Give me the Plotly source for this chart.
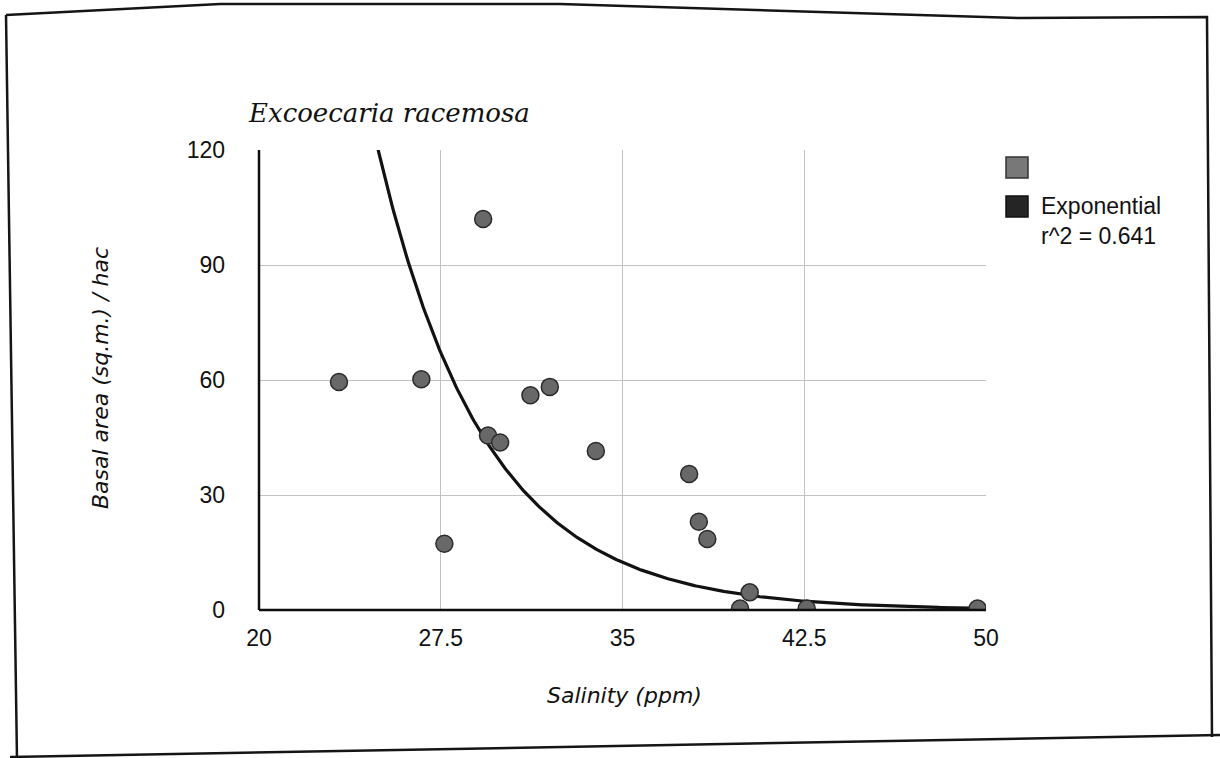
import numpy as np
import plotly.graph_objects as go

# Salinity (ppm) vs basal area per hectare for Excoecaria racemosa
salinity = [23.3, 26.7, 27.65, 29.25, 29.45, 29.95, 31.2, 32.0, 33.9,
            37.75, 38.15, 38.5, 40.25, 39.85, 42.6, 49.65]
basal_area = [59.5, 60.2, 17.3, 102.0, 45.5, 43.7, 56.0, 58.2, 41.5,
              35.5, 23.0, 18.5, 4.6, 0.4, 0.4, 0.4]

# Exponential trendline y = A * exp(B * x), r^2 = 0.641
TREND_A = 32675.0
TREND_B = -0.225
R_SQUARED = 0.641

x_ticks = [20, 27.5, 35, 42.5, 50]
x_tick_text = ["20", "27.5", "35", "42.5", "50"]
y_ticks = [0, 30, 60, 90, 120]

W, H = 1220, 758
ML, MR, MT, MB = 259, 234, 150, 148
PW, PH = W - ML - MR, H - MT - MB


def px(p):
    return (p - ML) / PW


def py(q):
    return (H - MB - q) / PH


trend_x = np.linspace(20, 50, 400)
trend_y = TREND_A * np.exp(TREND_B * trend_x)

fig = go.Figure()
fig.add_trace(go.Scatter(
    x=trend_x, y=trend_y, mode="lines",
    line=dict(color="#121212", width=3.2),
    hoverinfo="skip", showlegend=False,
))
fig.add_trace(go.Scatter(
    x=salinity, y=basal_area, mode="markers",
    marker=dict(size=17, color="#686868", line=dict(color="#2a2a2a", width=1.5)),
    showlegend=False,
))

sans = "Liberation Sans"
tick_font = dict(family=sans, size=23, color="#111111")

fig.update_xaxes(
    range=[20, 50], tickvals=x_ticks, ticktext=x_tick_text,
    showgrid=True, gridcolor="#c2c2c2", gridwidth=1,
    zeroline=False, showline=False, ticks="",
    tickfont=tick_font, ticklabelstandoff=12,
)
fig.update_yaxes(
    range=[0, 120], tickvals=y_ticks,
    showgrid=True, gridcolor="#c2c2c2", gridwidth=1,
    zeroline=False, showline=False, ticks="",
    tickfont=tick_font, ticklabelstandoff=33,
)

shapes = [
    # axis lines
    dict(type="line", xref="paper", yref="paper", x0=0, x1=0, y0=0, y1=1,
         line=dict(color="#0e0e0e", width=2.5)),
    dict(type="line", xref="paper", yref="paper", x0=0, x1=1, y0=0, y1=0,
         line=dict(color="#0e0e0e", width=2.5)),
    # legend swatches
    dict(type="rect", xref="paper", yref="paper",
         x0=px(1006), x1=px(1028), y0=py(178), y1=py(157),
         fillcolor="#787878", line=dict(color="#333333", width=1.5)),
    dict(type="rect", xref="paper", yref="paper",
         x0=px(1006), x1=px(1028), y0=py(217), y1=py(196),
         fillcolor="#252525", line=dict(color="#111111", width=1.5)),
]

# page frame around the figure
frame_pts = [(6, 15), (220, 4), (560, 4), (1020, 18), (1207, 17),
             (1212, 737)]
path = "M " + " L ".join(f"{px(a):.5f},{py(b):.5f}" for a, b in frame_pts)
shapes.append(dict(type="path", xref="paper", yref="paper", path=path,
                   line=dict(color="#151515", width=2.5)))
shapes.append(dict(type="line", xref="paper", yref="paper",
                   x0=px(6), y0=py(15), x1=px(17), y1=py(760),
                   line=dict(color="#151515", width=2.5)))
shapes.append(dict(type="line", xref="paper", yref="paper",
                   x0=px(10), y0=py(757), x1=px(1222), y1=py(735),
                   line=dict(color="#151515", width=2.5)))

annotations = [
    dict(text="<i>Excoecaria racemosa</i>", x=px(246), y=py(113),
         xref="paper", yref="paper", xanchor="left", yanchor="middle",
         showarrow=False, font=dict(family="DejaVu Serif", size=26, color="#111111")),
    dict(text="<i>Salinity (ppm)</i>", x=px(624), y=py(695),
         xref="paper", yref="paper", xanchor="center", yanchor="middle",
         showarrow=False, font=dict(family="DejaVu Sans", size=22, color="#111111")),
    dict(text="<i>Basal area (sq.m.) / hac</i>", x=px(100), y=py(378),
         xref="paper", yref="paper", xanchor="center", yanchor="middle",
         textangle=-90, showarrow=False,
         font=dict(family="DejaVu Sans", size=22, color="#111111")),
    dict(text="Exponential", x=px(1039), y=py(206),
         xref="paper", yref="paper", xanchor="left", yanchor="middle",
         showarrow=False, font=dict(family=sans, size=23, color="#111111")),
    dict(text=f"r^2 = {R_SQUARED:.3f}", x=px(1039), y=py(236),
         xref="paper", yref="paper", xanchor="left", yanchor="middle",
         showarrow=False, font=dict(family=sans, size=23, color="#111111")),
]

fig.update_layout(
    width=W, height=H,
    margin=dict(l=ML, r=MR, t=MT, b=MB),
    paper_bgcolor="white", plot_bgcolor="white",
    shapes=shapes, annotations=annotations,
    showlegend=False,
)

fig.write_html("out.html")
